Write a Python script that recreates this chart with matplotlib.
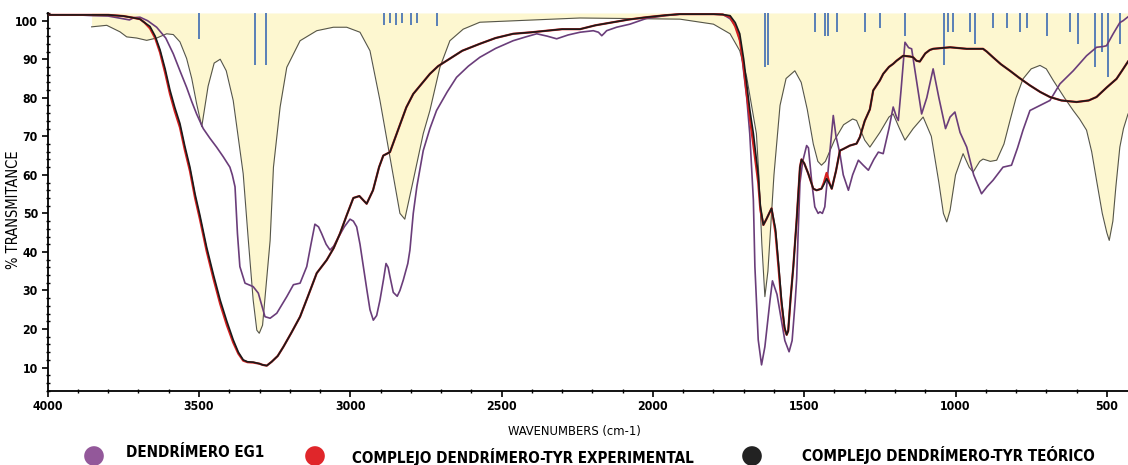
import numpy as np
import matplotlib.pyplot as plt
from matplotlib import font_manager
from matplotlib.ticker import MultipleLocator

# Data (wavenumber cm-1, % transmittance)
eg1_wn = [4000, 3900, 3850, 3800, 3750, 3730, 3715, 3695, 3670, 3640, 3610,
          3585, 3563, 3541, 3524, 3508, 3486, 3464, 3442, 3420, 3398, 3390,
          3381, 3373, 3365, 3348, 3321, 3304, 3282, 3265, 3243, 3210, 3188,
          3166, 3144, 3130, 3117, 3105, 3095, 3080, 3067, 3055, 3045, 3020,
          3001, 2990, 2979, 2968, 2957, 2945, 2935, 2924, 2913, 2902, 2890,
          2882, 2875, 2869, 2858, 2845, 2836, 2825, 2810, 2803, 2792, 2780,
          2759, 2737, 2715, 2680, 2649, 2610, 2572, 2520, 2462, 2420, 2384,
          2350, 2318, 2280, 2241, 2197, 2180, 2169, 2160, 2153, 2120, 2076,
          2021, 1960, 1911, 1800, 1768, 1745, 1724, 1710, 1702, 1690, 1680,
          1668, 1663, 1652, 1641, 1630, 1613, 1605, 1590, 1575, 1564, 1550,
          1540, 1530, 1525, 1520, 1514, 1505, 1492, 1486, 1475, 1465, 1454,
          1448, 1440, 1432, 1420, 1404, 1395, 1382, 1371, 1354, 1340, 1321,
          1305, 1288, 1270, 1255, 1239, 1220, 1206, 1195, 1189, 1180, 1167,
          1155, 1145, 1130, 1112, 1095, 1074, 1055, 1033, 1018, 1002, 985,
          963, 940, 914, 895, 876, 843, 815, 795, 777, 754, 721, 688, 655,
          611, 567, 534, 512, 501, 479, 457, 446, 430]
eg1_t = [101.5, 101.5, 101.3, 101.2, 100.5, 100.2, 100.8, 100.9, 100.0, 98.3,
         95.5, 91.4, 87.0, 82.7, 79.0, 75.8, 72.0, 69.5, 67.2, 64.7, 62.0,
         60.0, 56.9, 44.8, 36.2, 31.9, 31.0, 29.3, 23.2, 22.8, 24.1, 28.4,
         31.5, 31.9, 36.2, 42.0, 47.2, 46.5, 44.8, 42.0, 40.5, 41.5, 43.0,
         46.5, 48.5, 48.0, 46.5, 42.0, 36.2, 30.0, 25.0, 22.3, 23.5, 27.5,
         33.0, 37.0, 36.0, 33.6, 29.5, 28.5, 30.0, 32.7, 37.0, 40.5, 50.0,
         57.0, 66.3, 72.0, 76.7, 81.5, 85.3, 88.2, 90.5, 92.8, 94.8, 95.8,
         96.6, 96.0, 95.3, 96.3, 97.0, 97.4, 97.0, 96.1, 96.8, 97.4, 98.3,
         99.1, 100.6, 101.3, 101.7, 101.7, 101.6, 100.5, 98.3, 94.0, 88.0,
         80.0, 70.7, 53.4, 36.2, 17.2, 10.7, 15.4, 27.5, 32.5, 29.0, 22.0,
         17.0, 14.1, 17.0, 27.0, 33.0, 45.0, 58.0, 63.5, 67.6, 67.0, 58.0,
         51.7, 50.0, 50.4, 50.0, 51.7, 62.0, 75.4, 70.0, 65.5, 60.0, 56.0,
         60.0, 63.8, 62.5, 61.2, 64.0, 65.9, 65.5, 72.0, 77.6, 75.0, 74.1,
         82.0, 94.4, 93.0, 92.7, 85.0, 75.8, 80.0, 87.5, 80.0, 72.0, 75.0,
         76.3, 71.0, 67.2, 60.0, 55.1, 57.0, 58.6, 62.0, 62.5, 67.0, 71.6,
         76.7, 78.0, 79.3, 83.6, 87.0, 90.9, 93.1, 93.3, 93.5, 96.6, 99.5,
         100.0, 101.0]

cx_wn = [4000, 3900, 3800, 3750, 3720, 3695, 3680, 3662, 3645, 3629, 3612,
         3596, 3580, 3563, 3547, 3530, 3513, 3497, 3475, 3452, 3430, 3408,
         3387, 3370, 3354, 3340, 3321, 3300, 3290, 3276, 3260, 3240, 3221,
         3195, 3166, 3140, 3111, 3078, 3055, 3034, 3012, 2990, 2970, 2946,
         2925, 2905, 2891, 2869, 2850, 2836, 2815, 2792, 2760, 2737, 2710,
         2682, 2630, 2572, 2520, 2462, 2400, 2351, 2300, 2241, 2190, 2131,
         2080, 2021, 1960, 1911, 1850, 1800, 1770, 1745, 1728, 1713, 1700,
         1690, 1680, 1668, 1652, 1645, 1635, 1625, 1608, 1595, 1585, 1575,
         1565, 1558, 1553, 1545, 1536, 1525, 1514, 1509, 1500, 1487, 1470,
         1459, 1443, 1435, 1426, 1415, 1409, 1395, 1382, 1371, 1349, 1327,
         1316, 1300, 1283, 1272, 1250, 1239, 1220, 1206, 1195, 1173, 1150,
         1140, 1129, 1118, 1100, 1085, 1074, 1018, 963, 909, 897, 876, 850,
         820, 790, 754, 720, 688, 650, 600, 560, 534, 500, 468, 450, 430]
exp_t = [101.5, 101.5, 101.5, 101.2, 100.8, 100.4, 99.5, 98.0, 95.5, 91.8,
         86.5, 81.0, 76.5, 72.3, 66.5, 61.0, 54.0, 48.5, 40.3, 33.0, 26.5,
         21.0, 16.5, 13.6, 11.8, 11.4, 11.3, 11.0, 10.7, 10.5, 11.5, 13.0,
         15.4, 19.0, 23.2, 28.5, 34.5, 37.9, 41.0, 44.8, 49.5, 54.0, 54.5,
         52.5, 56.0, 62.0, 65.0, 65.9, 70.0, 73.0, 77.5, 81.0, 84.0, 86.2,
         88.2, 89.6, 92.2, 94.0, 95.5, 96.6, 97.0, 97.4, 97.8, 97.8, 98.8,
         99.6, 100.3, 100.9, 101.4, 101.7, 101.7, 101.7, 101.6, 101.0, 98.5,
         95.0, 88.0, 81.0, 75.0, 68.0, 58.0, 51.0, 47.0, 48.5, 51.3, 45.0,
         36.0, 26.5, 20.0, 18.5, 19.5, 28.0, 36.2, 48.3, 62.0, 64.0, 63.0,
         60.4, 56.4, 56.0, 56.4, 58.0, 60.5, 57.5, 56.4, 61.0, 66.3, 66.7,
         67.6, 68.1, 69.8, 74.0, 77.0, 81.9, 84.5, 86.2, 88.0, 88.8, 89.6,
         90.9, 90.7, 90.5, 89.6, 89.4, 91.5, 92.4, 92.7, 93.1, 92.7, 92.7,
         92.0, 90.5, 88.7, 87.0, 85.2, 83.2, 81.5, 80.2, 79.3, 78.9, 79.3,
         80.2, 82.7, 84.9, 87.0, 89.4]
teo_t = [101.5, 101.5, 101.5, 101.2, 100.8, 100.4, 99.5, 98.5, 96.0, 92.5,
         87.5, 82.0, 77.5, 73.3, 67.5, 62.0, 55.0, 49.5, 41.3, 34.0, 27.5,
         22.0, 17.2, 14.0, 12.0, 11.5, 11.4, 11.0, 10.7, 10.5, 11.5, 13.0,
         15.4, 19.0, 23.2, 28.5, 34.5, 37.9, 41.0, 44.8, 49.5, 54.0, 54.5,
         52.5, 56.0, 62.0, 65.0, 65.9, 70.0, 73.0, 77.5, 81.0, 84.0, 86.2,
         88.2, 89.6, 92.2, 94.0, 95.5, 96.6, 97.0, 97.4, 97.8, 97.8, 98.8,
         99.6, 100.3, 100.9, 101.4, 101.7, 101.7, 101.7, 101.6, 101.3, 99.5,
         96.6, 90.0, 83.6, 77.0, 70.7, 60.0, 52.0, 47.0, 48.5, 51.3, 46.0,
         37.0, 27.5, 20.5, 18.5, 19.5, 28.0, 36.2, 48.3, 62.0, 64.0, 63.0,
         60.4, 56.4, 56.0, 56.4, 57.5, 59.0, 57.5, 56.4, 61.0, 66.3, 66.7,
         67.6, 68.1, 69.8, 74.0, 77.0, 81.9, 84.5, 86.2, 88.0, 88.8, 89.6,
         90.9, 90.7, 90.5, 89.6, 89.4, 91.5, 92.4, 92.7, 93.1, 92.7, 92.7,
         92.0, 90.5, 88.7, 87.0, 85.2, 83.2, 81.5, 80.2, 79.3, 78.9, 79.3,
         80.2, 82.7, 84.9, 87.0, 89.4]

# library reference spectrum (thin grey line with yellow shading)
ref_wn = [3855, 3805, 3761, 3739, 3706, 3673, 3640, 3607, 3585, 3563, 3541,
          3524, 3508, 3491, 3470, 3450, 3430, 3410, 3387, 3354, 3337, 3321,
          3309, 3301, 3290, 3265, 3254, 3232, 3210, 3166, 3111, 3056, 3012,
          2968, 2935, 2902, 2869, 2836, 2820, 2792, 2759, 2737, 2704, 2671,
          2627, 2572, 2241, 1911, 1800, 1745, 1713, 1690, 1658, 1650, 1640,
          1630, 1620, 1600, 1580, 1560, 1531, 1510, 1490, 1470, 1455, 1443,
          1430, 1400, 1370, 1340, 1327, 1300, 1283, 1250, 1220, 1206, 1185,
          1167, 1140, 1107, 1080, 1055, 1040, 1029, 1018, 1000, 975, 955, 942,
          920, 909, 885, 864, 840, 820, 800, 777, 750, 721, 700, 677, 640,
          611, 590, 567, 550, 534, 515, 500, 492, 480, 470, 457, 445, 430]
ref_t = [98.4, 98.8, 97.1, 95.8, 95.5, 94.9, 95.5, 96.6, 96.4, 94.5, 90.2,
         85.0, 78.5, 72.5, 83.0, 89.0, 90.0, 87.0, 79.3, 60.3, 43.0, 27.5,
         19.7, 18.9, 21.0, 43.0, 62.0, 77.6, 87.9, 94.8, 97.4, 98.3, 98.3,
         97.0, 92.2, 79.3, 64.6, 50.0, 48.5, 58.6, 70.7, 76.7, 87.9, 94.8,
         97.8, 99.6, 100.7, 100.4, 99.1, 96.6, 92.2, 85.3, 70.7, 60.0, 42.0,
         28.4, 35.0, 60.0, 78.0, 85.0, 87.0, 84.0, 77.0, 68.0, 63.5, 62.5,
         63.5, 69.0, 73.0, 74.5, 74.1, 69.0, 67.2, 71.0, 75.0, 75.8, 72.0,
         69.0, 72.0, 75.0, 70.0, 58.0, 50.0, 47.8, 50.8, 60.0, 65.5, 62.0,
         60.7, 63.5, 64.1, 63.5, 63.8, 68.0, 74.1, 80.0, 84.9, 87.5, 88.4,
         87.5, 84.5, 80.0, 76.7, 74.5, 71.6, 66.0, 58.6, 50.0, 45.0, 43.0,
         48.0, 57.0, 67.2, 72.0, 75.8]

# stick spectrum (blue lines hanging from the top)
stick_wn = [3499, 3315, 3280, 2890, 2870, 2850, 2830, 2800, 2780, 2715,
            1628, 1620, 1464, 1431, 1420, 1393, 1299, 1250, 1167, 1038, 1024,
            1007, 952, 936, 875, 831, 787, 765, 699, 622, 594, 539, 517, 496,
            457]
stick_bottom = [95.2, 88.4, 88.4, 99.0, 99.5, 99.0, 99.5, 99.0, 99.5, 98.5,
                88.0, 88.5, 97.0, 96.0, 96.0, 97.0, 97.0, 98.0, 96.0, 88.5,
                97.0, 97.0, 97.0, 94.0, 98.0, 98.0, 97.0, 98.0, 96.0, 97.0,
                94.0, 88.0, 92.0, 85.5, 94.0]

legend_labels = ["DENDRÍMERO EG1", "COMPLEJO DENDRÍMERO-TYR EXPERIMENTAL",
                 "COMPLEJO DENDRÍMERO-TYR TEÓRICO"]
legend_colors = ["#93589a", "#e0262a", "#222222"]

# pick the narrowest sans available for the condensed-looking labels
fonts = font_manager.fontManager.ttflist
if any(f.name == "Liberation Sans Narrow" for f in fonts):
    fam, stretch, k = "Liberation Sans Narrow", "normal", 1.0
elif any(f.name == "DejaVu Sans" and f.stretch == "condensed" for f in fonts):
    fam, stretch, k = "DejaVu Sans", "condensed", 0.84
else:
    fam, stretch, k = "DejaVu Sans", "normal", 0.76
narrow = dict(family=fam, fontstretch=stretch)

fig = plt.figure(figsize=(11.28, 4.65), dpi=100)
ax = fig.add_axes([0.0423, 0.1598, 0.9577, 0.8123])

ax.fill_between(ref_wn, ref_t, 102, color="#fdf7d0", lw=0, zorder=0)
ax.vlines(stick_wn, stick_bottom, 102, color="#3d6bb3", lw=1.2, zorder=1)
ax.plot(ref_wn, ref_t, color="#55554a", lw=0.8, zorder=2)
ax.plot(eg1_wn, eg1_t, color="#6a3d7a", lw=1.2, zorder=3)
ax.plot(cx_wn, exp_t, color="#d42020", lw=1.6, zorder=4)
ax.plot(cx_wn, teo_t, color="#1a1a1a", lw=1.2, zorder=5)

ax.set_xlim(4000, 430)
ax.set_ylim(4, 102)
ax.set_xticks([4000, 3500, 3000, 2500, 2000, 1500, 1000, 500])
ax.set_yticks(range(10, 101, 10))
ax.xaxis.set_minor_locator(MultipleLocator(100))
ax.yaxis.set_minor_locator(MultipleLocator(2))
ax.tick_params(which="major", direction="out", length=4, width=1.2, pad=3)
ax.tick_params(which="minor", direction="inout", length=3, width=1)
for lab in ax.get_xticklabels() + ax.get_yticklabels():
    lab.set(fontsize=10.5 * k, fontweight="bold", **narrow)
ax.spines["top"].set_visible(False)
ax.spines["right"].set_visible(False)
ax.spines["left"].set_linewidth(1.3)
ax.spines["bottom"].set_linewidth(1.3)

ax.set_ylabel("% TRANSMITANCE", fontsize=12.5 * k, **narrow)
ax.yaxis.set_label_coords(-0.0245, 0.48)
ax.set_xlabel("WAVENUMBERS (cm-1)", fontsize=11 * k, **narrow)
ax.xaxis.set_label_coords(0.488, -0.09)

# legend row drawn in pixel coordinates under the plot
lg = fig.add_axes([0, 0, 1, 1], zorder=-1)
lg.set_xlim(0, 1128)
lg.set_ylim(465, 0)
lg.axis("off")
marker_x = [94, 315, 752]
text_x = [126, 352, 802]
text_y = [452, 457, 455]
for mx, tx, ty, lab, col in zip(marker_x, text_x, text_y, legend_labels,
                                legend_colors):
    lg.scatter([mx], [456], s=200, color=col, edgecolors="none")
    lg.text(tx, ty, lab, fontsize=13 * k, fontweight="bold", va="center",
            ha="left", **narrow)

fig.savefig("out.png", dpi=100)
